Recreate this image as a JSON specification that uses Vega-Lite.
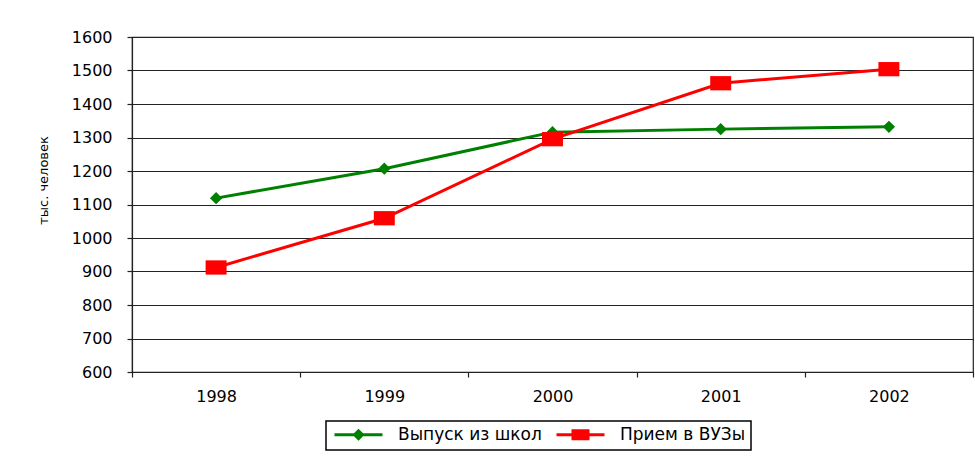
{
  "$schema": "https://vega.github.io/schema/vega-lite/v6.json",
  "width": 841,
  "height": 335,
  "autosize": {"type": "none"},
  "padding": {"left": 132, "top": 37, "right": 2, "bottom": 85},
  "background": "white",
  "config": {
    "font": "DejaVu Sans",
    "view": {"stroke": "#222", "strokeWidth": 1.2}
  },
  "data": {
    "values": [
      {"year": "1998", "series": "Выпуск из школ", "value": 1119},
      {"year": "1999", "series": "Выпуск из школ", "value": 1207},
      {"year": "2000", "series": "Выпуск из школ", "value": 1316},
      {"year": "2001", "series": "Выпуск из школ", "value": 1325},
      {"year": "2002", "series": "Выпуск из школ", "value": 1332},
      {"year": "1998", "series": "Прием в ВУЗы", "value": 912},
      {"year": "1999", "series": "Прием в ВУЗы", "value": 1059},
      {"year": "2000", "series": "Прием в ВУЗы", "value": 1295},
      {"year": "2001", "series": "Прием в ВУЗы", "value": 1462},
      {"year": "2002", "series": "Прием в ВУЗы", "value": 1504}
    ]
  },
  "encoding": {
    "x": {
      "field": "year", "type": "ordinal",
      "scale": {"type": "band", "paddingInner": 0, "paddingOuter": 0},
      "axis": {"title": null, "labelAngle": 0, "labelFont": "DejaVu Sans", "labelFontSize": 16, "labelColor": "#000", "tickBand": "extent", "tickSize": 5, "tickColor": "#222", "tickWidth": 1.2, "domainColor": "#222", "domainWidth": 1.2, "labelPadding": 11, "grid": false}
    },
    "y": {
      "field": "value", "type": "quantitative",
      "scale": {"domain": [600, 1600], "nice": false, "zero": false},
      "axis": {"title": "тыс. человек", "titleFont": "DejaVu Sans", "titleFontSize": 13, "titleFontWeight": "normal", "titleColor": "#000", "titleX": -89, "titleY": 143, "titleAngle": 270, "titleAlign": "center", "titleBaseline": "middle",
        "values": [600, 700, 800, 900, 1000, 1100, 1200, 1300, 1400, 1500, 1600], "format": "d", "labelFont": "DejaVu Sans", "labelFontSize": 16, "labelColor": "#000",
        "grid": true, "gridColor": "#222", "gridWidth": 1.2, "gridOpacity": 1, "tickSize": 5, "tickColor": "#222", "tickWidth": 1.2, "domainColor": "#222", "domainWidth": 1.2, "labelPadding": 15}
    }
  },
  "layer": [
    {
      "mark": {"type": "line", "strokeWidth": 3},
      "encoding": {
        "color": {
          "field": "series", "type": "nominal",
          "scale": {"domain": ["Выпуск из школ", "Прием в ВУЗы"], "range": ["#008000", "#ff0000"]},
          "legend": {
            "orient": "none", "legendX": 194, "legendY": 384, "direction": "horizontal", "title": null,
            "strokeColor": "#000", "padding": 5, "labelFontSize": 17, "labelColor": "#000", "labelFont": "DejaVu Sans",
            "symbolSize": 100, "symbolStrokeWidth": 3, "columnPadding": 8, "labelOffset": 50,
            "encode": {
              "legend": {"update": {"strokeWidth": {"value": 1.5}}},
              "symbols": {"update": {
                "shape": {"signal": "datum.value == 'Выпуск из школ' ? 'M-1,0L8.6,0M3,0L3.8,-0.8L4.6,0L3.8,0.8Z' : 'M-1,0L8.6,0M2.3,-0.8L5.3,-0.8L5.3,0.8L2.3,0.8Z'"},
                "fill": {"signal": "datum.value == 'Выпуск из школ' ? '#008000' : '#ff0000'"},
                "fillOpacity": {"value": 1},
                "opacity": {"value": 1}
              }}
            }
          }
        },
        "order": {"field": "series"}
      }
    },
    {
      "transform": [{"filter": "datum.series == 'Выпуск из школ'"}],
      "mark": {"type": "point", "filled": true, "opacity": 1, "color": "#008000", "shape": "M-0.55,0L0,-0.55L0.55,0L0,0.55Z", "size": 500}
    },
    {
      "transform": [{"filter": "datum.series == 'Прием в ВУЗы'"}],
      "mark": {"type": "point", "filled": true, "opacity": 1, "color": "#ff0000", "shape": "M-1,-0.68L1,-0.68L1,0.68L-1,0.68Z", "size": 440}
    }
  ]
}
